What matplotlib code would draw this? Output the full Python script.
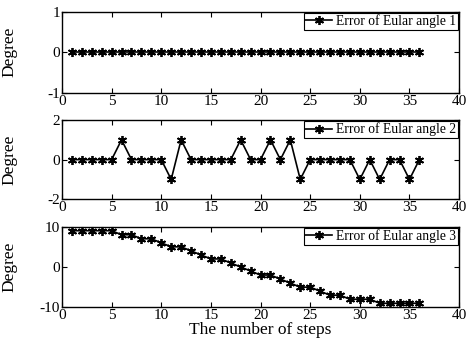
import numpy as np
import matplotlib
matplotlib.use('Agg')
import matplotlib.pyplot as plt

plt.rcParams['font.family'] = ['Liberation Serif', 'DejaVu Serif']
plt.rcParams['axes.unicode_minus'] = False

# data
steps = list(range(1, 37))
err_angle1 = [0] * 36
err_angle2 = [0, 0, 0, 0, 0, 1, 0, 0, 0, 0, -1, 1, 0, 0, 0, 0, 0, 1,
              0, 0, 1, 0, 1, -1, 0, 0, 0, 0, 0, -1, 0, -1, 0, 0, -1, 0]
err_angle3 = [9, 9, 9, 9, 9, 8, 8, 7, 7, 6, 5, 5, 4, 3, 2, 2, 1, 0,
              -1, -2, -2, -3, -4, -5, -5, -6, -7, -7, -8, -8, -8, -9, -9, -9, -9, -9]

labels = ['Error of Eular angle 1', 'Error of Eular angle 2', 'Error of Eular angle 3']
ylims = [(-1, 1), (-2, 2), (-10, 10)]
yticks = [[-1, 0, 1], [-2, 0, 2], [-10, 0, 10]]

fig = plt.figure(figsize=(4.75, 3.47), dpi=100)
positions = [
    [0.1305, 0.733, 0.836, 0.2334],
    [0.1305, 0.4257, 0.836, 0.2285],
    [0.1305, 0.1144, 0.836, 0.2323],
]

# MATLAB style asterisk marker
asterisk = (6, 2, 0)

for i, (pos, ys) in enumerate(zip(positions, [err_angle1, err_angle2, err_angle3])):
    ax = fig.add_axes(pos)
    ax.plot(steps, ys, color='black', linewidth=1.2, marker=asterisk,
            markersize=6.5, markeredgewidth=1.3, label=labels[i], clip_on=False)
    ax.set_xlim(0, 40)
    ax.set_ylim(*ylims[i])
    ax.set_xticks(range(0, 41, 5))
    ax.set_yticks(yticks[i])
    ax.tick_params(direction='in', top=True, right=True, length=3.5,
                   width=0.8, labelsize=11, pad=1.5)
    for sp in ax.spines.values():
        sp.set_linewidth(1.0)
    ax.yaxis.set_label_coords(-0.112, 0.5)
    ax.set_ylabel('Degree', fontsize=12.5)
    leg = ax.legend(loc='upper right', fontsize=9.8, frameon=True, fancybox=False,
                    edgecolor='black', framealpha=1, borderpad=0.1,
                    borderaxespad=0.1, handlelength=2.0, handletextpad=0.3)
    leg.get_frame().set_linewidth(0.8)
    if i == 2:
        ax.set_xlabel('The number of steps', fontsize=12.5, labelpad=0)

fig.savefig('out.png', dpi=100, facecolor='white')
